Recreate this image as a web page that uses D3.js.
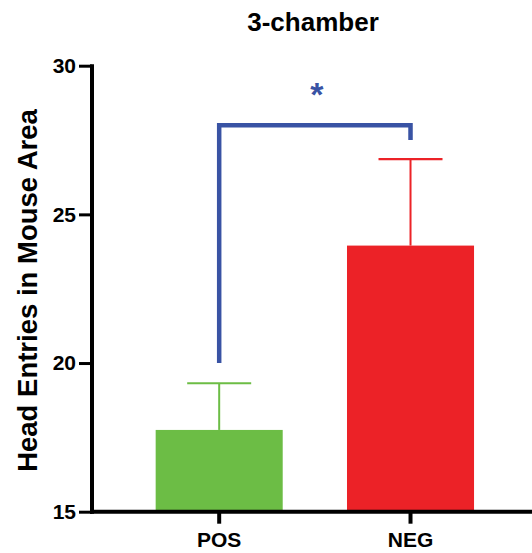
<!DOCTYPE html>
<html><head><meta charset="utf-8">
<script src="https://cdn.jsdelivr.net/npm/d3@7"></script>
<style>body{margin:0;background:#fff;}svg{display:block;font-family:Arial,"Liberation Sans",sans-serif;}</style>
</head><body>
<script>
const categories = ["POS", "NEG"];
const means = [17.75, 23.95];
const errors = [1.57, 2.91];
const yTicks = [15, 20, 25, 30];
const colors = ["#6cbd45", "#ec2227"];
const sigLevels = [20, 28, 27.5];
const sigLabel = "*";

const W = 532, H = 553;
const FONT = "Arial, 'Liberation Sans', sans-serif";
const svg = d3.select("body").append("svg").attr("width", W).attr("height", H);
const axisX = 92, axisBottom = 511.7, axisTop = 65.7;
const y = d3.scaleLinear().domain([15, 30]).range([axisBottom, axisTop]);
const x = d3.scaleBand().domain(categories).range([60, 569.7]).paddingInner(0.336).paddingOuter(0.5);

// bars
svg.selectAll("rect.bar").data(categories).join("rect")
  .attr("x", d => x(d)).attr("width", x.bandwidth())
  .attr("y", (d,i) => y(means[i])).attr("height", (d,i) => y(15) - y(means[i]))
  .attr("fill", (d,i) => colors[i]);

// error bars
categories.forEach((c,i) => {
  const cx = x(c) + x.bandwidth()/2;
  svg.append("line").attr("x1", cx).attr("x2", cx).attr("y1", y(means[i])).attr("y2", y(means[i]+errors[i]))
    .attr("stroke", colors[i]).attr("stroke-width", 2);
  svg.append("line").attr("x1", cx-32).attr("x2", cx+32).attr("y1", y(means[i]+errors[i])).attr("y2", y(means[i]+errors[i]))
    .attr("stroke", colors[i]).attr("stroke-width", 2.2);
});

// y axis
const yAxis = svg.append("g").attr("transform", `translate(${axisX},0)`)
  .call(d3.axisLeft(y).tickValues(yTicks).tickSize(13).tickPadding(3));
yAxis.select(".domain").attr("stroke", "#000").attr("stroke-width", 4).attr("d", `M0,${axisBottom+2}V${axisTop-1.5}`);
yAxis.selectAll(".tick line").attr("stroke", "#000").attr("stroke-width", 3);
yAxis.selectAll(".tick text").attr("font-size", 21).attr("font-weight", "bold").attr("fill", "#000")
  .attr("font-family", FONT);

// x axis
const xAxis = svg.append("g").attr("transform", `translate(0,${axisBottom})`)
  .call(d3.axisBottom(x).tickSize(12).tickPadding(8));
xAxis.select(".domain").attr("stroke", "#000").attr("stroke-width", 4).attr("d", `M${axisX-2},0H${W}`);
xAxis.selectAll(".tick line").attr("stroke", "#000").attr("stroke-width", 4);
xAxis.selectAll(".tick text").attr("font-size", 21).attr("font-weight", "bold").attr("fill", "#000")
  .attr("font-family", FONT);

// significance bracket
const x1 = x(categories[0]) + x.bandwidth()/2, x2 = x(categories[1]) + x.bandwidth()/2;
svg.append("path")
  .attr("d", `M${x1},${y(sigLevels[0])}V${y(sigLevels[1])}H${x2}V${y(sigLevels[2])}`)
  .attr("fill", "none").attr("stroke", "#3953a4").attr("stroke-width", 4.5);
svg.append("text").attr("x", (x1+x2)/2 + 2).attr("y", 106).attr("text-anchor", "middle")
  .attr("font-size", 34).attr("font-weight", "bold").attr("fill", "#3953a4").attr("font-family", FONT).text(sigLabel);

// title
svg.append("text").attr("x", 313).attr("y", 31).attr("text-anchor", "middle")
  .attr("font-size", 26).attr("font-weight", "bold").attr("fill", "#000").attr("font-family", FONT).text("3-chamber");

// y label
svg.append("text").attr("transform", `translate(37,290.5) rotate(-90)`).attr("text-anchor", "middle")
  .attr("font-size", 27.5).attr("font-weight", "bold").attr("fill", "#000").attr("font-family", FONT)
  .text("Head Entries in Mouse Area");
</script>
</body></html>
